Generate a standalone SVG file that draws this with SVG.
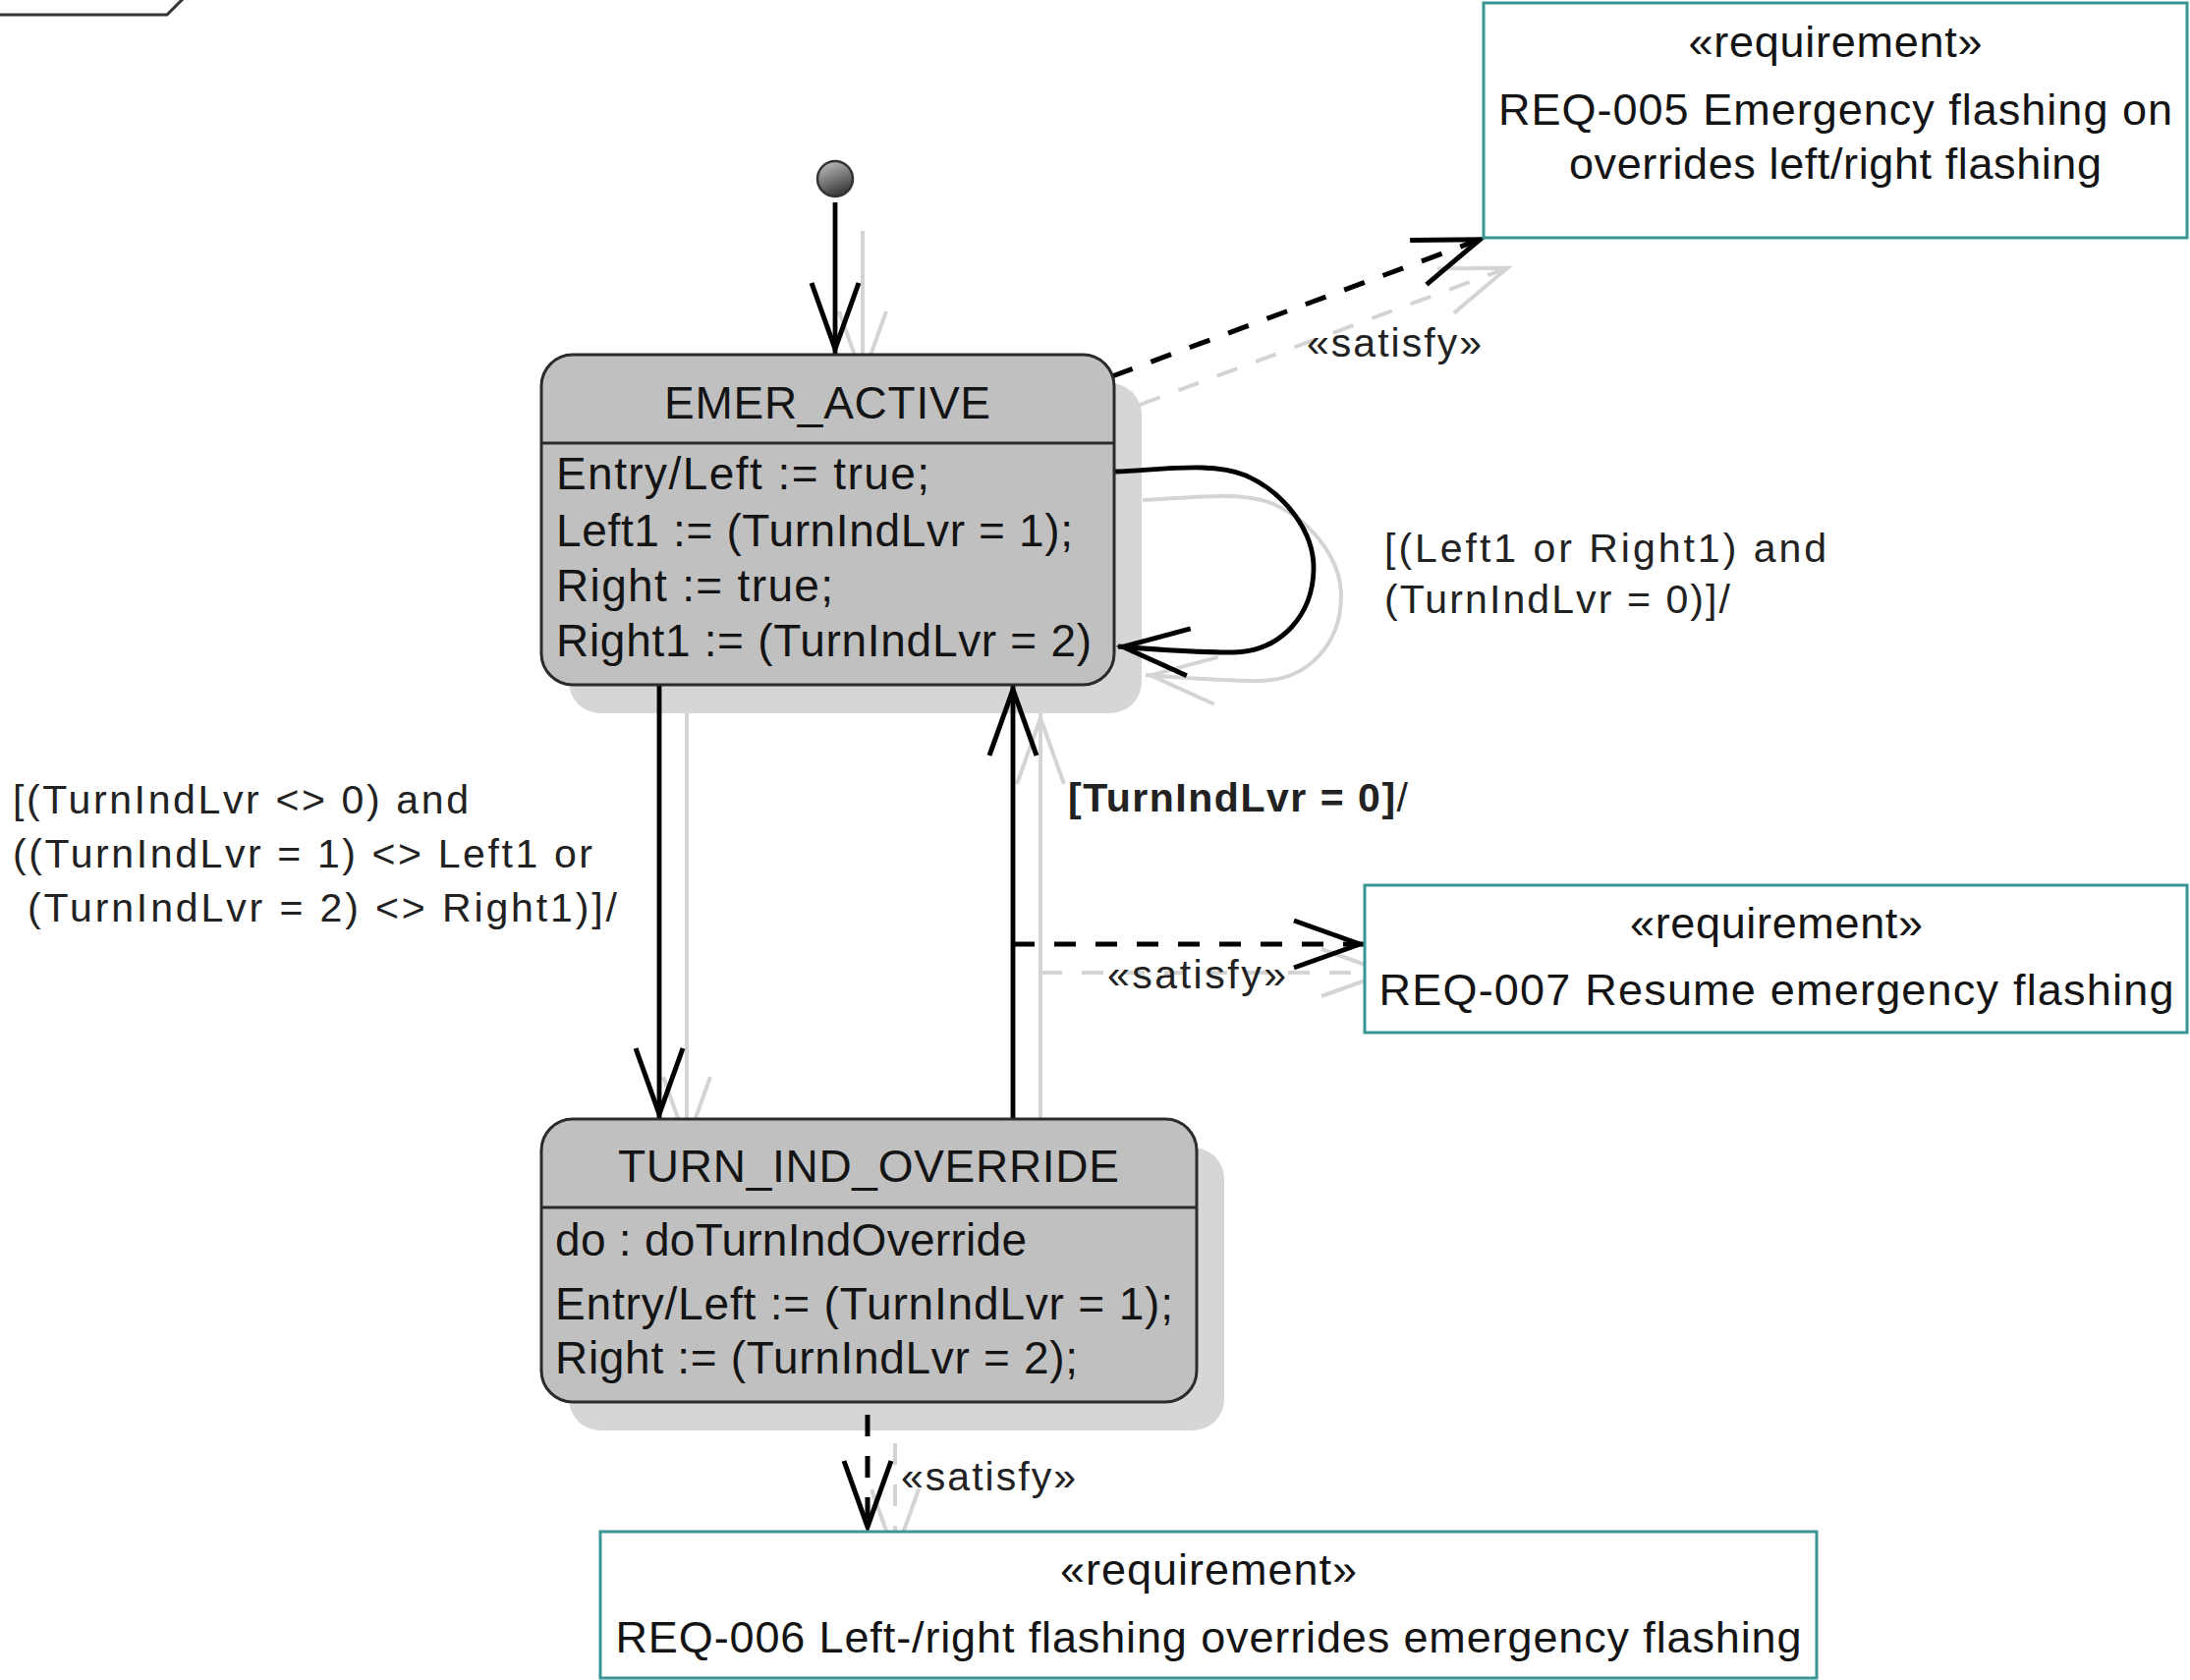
<svg xmlns="http://www.w3.org/2000/svg" width="2229" height="1710" viewBox="0 0 2229 1710">
  <style>
    text { font-family: "Liberation Sans", Arial, sans-serif; fill: #141414; }
    .t-node { font-size: 46px; }
    .t-label { font-size: 41px; fill: #222; }
    .t-req { font-size: 45px; }
    .conn { fill: none; stroke: #000; stroke-width: 4.8; }
    .dash { stroke-dasharray: 22 20; stroke-width: 5; }
    .ghost path { fill: none; stroke: #d4d4d4; stroke-width: 4; }
    .ghost .dash { stroke-dasharray: 22 20; }
    .shadow { fill: #d6d6d6; }
    .state { fill: #c0c0c0; stroke: #2b2b2b; stroke-width: 3; }
    .divider { stroke: #2b2b2b; stroke-width: 3; }
    .req { fill: #fff; stroke: #3a9696; stroke-width: 3; }
    .frame { fill: none; stroke: #333; stroke-width: 3; }
  </style>
  <defs>
    <marker id="arrow" markerUnits="userSpaceOnUse" viewBox="-80 -30 90 60" refX="0" refY="0" markerWidth="90" markerHeight="60" orient="auto" overflow="visible">
      <path d="M-72,-24 L-5,0 L-72,24" fill="none" stroke="#000" stroke-width="5" stroke-dasharray="none" stroke-linejoin="miter"/>
    </marker>
    <marker id="arrow-ghost" markerUnits="userSpaceOnUse" viewBox="-80 -30 90 60" refX="0" refY="0" markerWidth="90" markerHeight="60" orient="auto" overflow="visible">
      <path d="M-72,-24 L-5,0 L-72,24" fill="none" stroke="#d4d4d4" stroke-width="4" stroke-dasharray="none"/>
    </marker>
    <linearGradient id="initGrad" x1="0" y1="0" x2="0.4" y2="1">
      <stop offset="0" stop-color="#c8c8c8"/>
      <stop offset="1" stop-color="#3e3e3e"/>
    </linearGradient>
  </defs>

  <!-- diagram frame corner -->
  <path class="frame" d="M0,15 L170,15 L188,-3"/>

  <!-- drop-shadow copies of the transitions -->
  <g id="connector-shadows" class="ghost" transform="translate(28,29)">
    <path d="M850,206 L850,360" marker-end="url(#arrow-ghost)"/>
    <path class="dash" d="M1132,383 L1511,242" marker-end="url(#arrow-ghost)"/>
    <path d="M1135,480 C1185,478 1235,470 1268,484 C1310,503 1338,543 1337,580 C1336,625 1305,663 1255,664 C1215,664 1175,661 1138,658" marker-end="url(#arrow-ghost)"/>
    <path d="M671,697 L671,1139" marker-end="url(#arrow-ghost)"/>
    <path d="M1031,1139 L1031,697" marker-end="url(#arrow-ghost)"/>
    <path class="dash" d="M1031,961 L1389,961" marker-end="url(#arrow-ghost)"/>
    <path class="dash" d="M883,1440 L883,1559" marker-end="url(#arrow-ghost)"/>
  </g>

  <!-- state shadows -->
  <g id="state-shadows">
    <rect class="shadow" x="579" y="390" width="583" height="336" rx="32"/>
    <rect class="shadow" x="579" y="1168" width="667" height="288" rx="32"/>
  </g>

  <!-- transitions and satisfy dependencies -->
  <g id="connectors">
    <path class="conn" d="M850,206 L850,360" marker-end="url(#arrow)"/>
    <path class="conn dash" d="M1132,383 L1511,242" marker-end="url(#arrow)"/>
    <text class="t-label" x="1330" y="363" textLength="178">«satisfy»</text>

    <path class="conn" d="M1135,480 C1185,478 1235,470 1268,484 C1310,503 1338,543 1337,580 C1336,625 1305,663 1255,664 C1215,664 1175,661 1138,658" marker-end="url(#arrow)"/>
    <text class="t-label" x="1409" y="572" textLength="450">[(Left1 or Right1) and</text>
    <text class="t-label" x="1409" y="624" textLength="352">(TurnIndLvr = 0)]/</text>

    <path class="conn" d="M671,697 L671,1139" marker-end="url(#arrow)"/>
    <text class="t-label" x="13" y="828" textLength="464">[(TurnIndLvr &lt;&gt; 0) and</text>
    <text class="t-label" x="13" y="883" textLength="590">((TurnIndLvr = 1) &lt;&gt; Left1 or</text>
    <text class="t-label" x="28" y="938" textLength="600">(TurnIndLvr = 2) &lt;&gt; Right1)]/</text>

    <path class="conn" d="M1031,1139 L1031,697" marker-end="url(#arrow)"/>
    <text class="t-label" x="1087" y="826" textLength="346"><tspan font-weight="bold">[TurnIndLvr = 0]</tspan>/</text>

    <path class="conn dash" d="M1031,961 L1389,961" marker-end="url(#arrow)"/>
    <text class="t-label" x="1127" y="1006" textLength="182">«satisfy»</text>

    <path class="conn dash" d="M883,1440 L883,1559" marker-end="url(#arrow)"/>
    <text class="t-label" x="917" y="1517" textLength="178">«satisfy»</text>
  </g>

  <!-- initial pseudo-state -->
  <g id="initial">
    <circle cx="850" cy="182" r="18" fill="url(#initGrad)" stroke="#333" stroke-width="2.5"/>
  </g>

  <g id="emer-active">
    <rect class="state" x="551" y="361" width="583" height="336" rx="32"/>
    <line class="divider" x1="551" y1="451" x2="1134" y2="451"/>
    <text class="t-node" x="842" y="426" text-anchor="middle" textLength="332">EMER_ACTIVE</text>
    <text class="t-node" x="566" y="498" textLength="380">Entry/Left := true;</text>
    <text class="t-node" x="566" y="556" textLength="526">Left1 := (TurnIndLvr = 1);</text>
    <text class="t-node" x="566" y="612" textLength="282">Right := true;</text>
    <text class="t-node" x="566" y="668" textLength="545">Right1 := (TurnIndLvr = 2)</text>
  </g>

  <g id="turn-ind-override">
    <rect class="state" x="551" y="1139" width="667" height="288" rx="32"/>
    <line class="divider" x1="551" y1="1229" x2="1218" y2="1229"/>
    <text class="t-node" x="884" y="1203" text-anchor="middle" textLength="510">TURN_IND_OVERRIDE</text>
    <text class="t-node" x="565" y="1278" textLength="480">do : doTurnIndOverride</text>
    <text class="t-node" x="565" y="1343" textLength="629">Entry/Left := (TurnIndLvr = 1);</text>
    <text class="t-node" x="565" y="1398" textLength="532">Right := (TurnIndLvr = 2);</text>
  </g>

  <g id="req-005">
    <rect class="req" x="1510" y="3" width="716" height="239"/>
    <text class="t-req" x="1868" y="58" text-anchor="middle" textLength="299">«requirement»</text>
    <text class="t-req" x="1868" y="127" text-anchor="middle" textLength="686">REQ-005 Emergency flashing on</text>
    <text class="t-req" x="1868" y="182" text-anchor="middle" textLength="542">overrides left/right flashing</text>
  </g>

  <g id="req-007">
    <rect class="req" x="1389" y="901" width="837" height="150"/>
    <text class="t-req" x="1808" y="955" text-anchor="middle" textLength="298">«requirement»</text>
    <text class="t-req" x="1808" y="1023" text-anchor="middle" textLength="809">REQ-007 Resume emergency flashing</text>
  </g>

  <g id="req-006">
    <rect class="req" x="611" y="1559" width="1238" height="149"/>
    <text class="t-req" x="1230" y="1613" text-anchor="middle" textLength="302">«requirement»</text>
    <text class="t-req" x="1230" y="1682" text-anchor="middle" textLength="1207">REQ-006 Left-/right flashing overrides emergency flashing</text>
  </g>
</svg>
